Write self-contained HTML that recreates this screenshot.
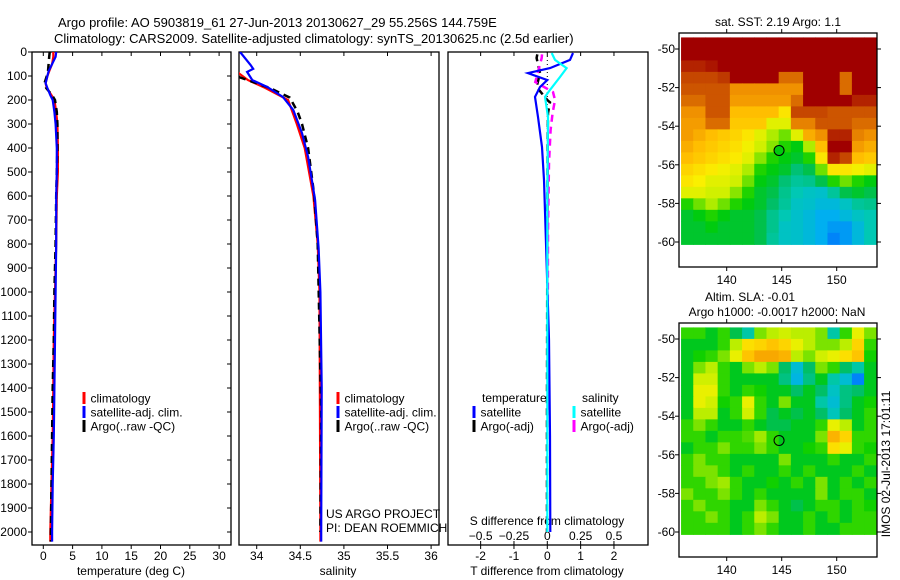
<!DOCTYPE html>
<html><head><meta charset="utf-8"><style>
html,body{margin:0;padding:0;background:#fff;}
svg{display:block;font-family:"Liberation Sans",sans-serif;}
text{fill:#000;}
</style></head><body>
<svg id="fig" width="900" height="580" viewBox="0 0 900 580" xmlns="http://www.w3.org/2000/svg">
<text x="58" y="27" font-size="13">Argo profile: AO 5903819_61 27-Jun-2013 20130627_29 55.256S 144.759E</text>
<text x="54" y="43" font-size="13">Climatology: CARS2009. Satellite-adjusted climatology: synTS_20130625.nc (2.5d earlier)</text>
<g id="layer"></g>
</svg>
<script>
// ---------- data ----------
const tDepth = [0,20,50,80,100,130,150,180,200,250,300,400,500,600,800,1000,1200,1400,1600,1800,2000,2040];
const tClim  = [1.7,1.7,1.5,1.0,0.7,0.4,0.6,1.4,1.9,2.2,2.4,2.5,2.5,2.3,2.2,2.0,1.8,1.7,1.6,1.4,1.2,1.2];
const tSat   = [2.2,2.1,1.5,0.9,0.7,0.4,0.7,1.2,1.6,1.9,2.1,2.3,2.3,2.2,2.2,2.1,2.0,1.9,1.8,1.6,1.5,1.5];
const tArgo  = [1.1,1.0,0.9,0.8,0.6,0.2,0.5,1.5,2.0,2.3,2.4,2.4,2.3,2.2,2.1,1.9,1.8,1.6,1.5,1.4,1.3,1.3];

const sDepthSat = [0,54,70,83,117,146,187,242,338,437,617,817,1000,1400,2000,2040];
const sSat      = [33.81,33.93,33.96,33.89,33.95,34.12,34.3,34.42,34.52,34.59,34.67,34.71,34.73,34.745,34.74,34.74];
const sDepthClim = [0,90,117,150,200,300,400,600,800,1000,2000,2040];
const sClim      = [33.5,33.8,33.9,34.1,34.36,34.46,34.55,34.65,34.7,34.72,34.73,34.73];
const sDepthArgo = [0,105,120,150,190,250,300,400,600,800,1500,2000];
const sArgo      = [33.5,33.8,33.92,34.15,34.38,34.47,34.52,34.59,34.66,34.7,34.74,34.73];

const dTDepthSat = [4,33,67,88,117,146,187,271,396,533,796,1200,1600,2000];
const dTSat      = [0.77,0.68,0.08,-0.58,0,-0.22,-0.37,-0.28,-0.16,-0.1,-0.04,0.05,0.08,0.09];
const dSDepthSat = [4,33,67,104,158,187,271,600,1000,1500,2000];
const dSSat      = [0.033,0.058,0.145,0.095,0.02,-0.017,0.005,0.0,0.0,0.0,0.0];
const dTDepthArgo = [10,25,88,146,200,210,254,400,800,1500,2000];
const dTArgo      = [-0.3,-0.32,-0.22,-0.32,0,0.08,0.02,0.01,0,-0.01,-0.01];
const dSDepthArgo = [10,25,125,167,200,254,325,462,742,1200,1500];
const dSArgo      = [-0.04,-0.042,-0.09,0.043,0.058,0.04,0.025,0.013,0.005,0.003,0.003];

const tTicks = [0,5,10,15,20,25,30];
const sTicks = [34,34.5,35,35.5,36];
const sTickLabels = ["34","34.5","35","35.5","36"];
const dTTicks = [-2,-1,0,1,2];
const dSTicks = [-0.5,-0.25,0,0.25,0.5];
const dSTickLabels = ["-0.5","-0.25","0","0.25","0.5"];
const depthTicks = [0,100,200,300,400,500,600,700,800,900,1000,1100,1200,1300,1400,1500,1600,1700,1800,1900,2000];
const lonTicks = [140,145,150];
const latTicks = [-50,-52,-54,-56,-58,-60];

const sstGrid = [
[1,1,1,1,1,1,1,1,1,1,1,1,1,1,1,1],
[1,1,1,1,1,1,1,1,1,1,1,1,1,1,1,1],
[0.95,0.95,0.97,1,1,1,1,1,1,1,1,1,1,1,1,1],
[0.9,0.9,0.9,0.92,1,1,1,1,0.85,0.85,1,1,1,0.85,1,1],
[0.88,0.88,0.88,0.88,0.8,0.8,0.8,0.8,0.8,0.8,1,1,1,0.85,1,1],
[0.85,0.85,0.88,0.88,0.78,0.78,0.78,0.78,0.78,0.85,1,1,1,1,0.95,0.95],
[0.8,0.8,0.88,0.88,0.72,0.72,0.72,0.72,0.65,0.9,0.9,0.9,0.88,0.88,0.88,0.88],
[0.78,0.78,0.85,0.85,0.7,0.7,0.7,0.6,0.6,0.82,0.82,0.88,0.88,0.88,0.85,0.85],
[0.78,0.75,0.72,0.7,0.68,0.65,0.6,0.55,0.5,0.6,0.75,0.8,0.95,0.95,0.82,0.8],
[0.75,0.72,0.7,0.68,0.66,0.62,0.58,0.52,0.45,0.42,0.55,0.72,1,1,0.78,0.75],
[0.72,0.7,0.68,0.66,0.64,0.6,0.52,0.45,0.42,0.4,0.45,0.65,0.95,0.9,0.72,0.7],
[0.68,0.66,0.64,0.62,0.6,0.55,0.45,0.42,0.4,0.35,0.38,0.5,0.65,0.65,0.62,0.6],
[0.65,0.63,0.6,0.6,0.58,0.5,0.42,0.4,0.35,0.32,0.33,0.38,0.45,0.5,0.45,0.42],
[0.6,0.6,0.58,0.58,0.52,0.45,0.4,0.38,0.33,0.3,0.28,0.27,0.32,0.38,0.4,0.38],
[0.45,0.5,0.55,0.5,0.45,0.42,0.4,0.36,0.32,0.28,0.27,0.25,0.25,0.28,0.32,0.33],
[0.4,0.42,0.45,0.42,0.4,0.4,0.38,0.33,0.3,0.27,0.25,0.22,0.22,0.25,0.28,0.3],
[0.4,0.4,0.42,0.4,0.4,0.4,0.38,0.33,0.28,0.27,0.25,0.22,0.2,0.2,0.25,0.3],
[0.4,0.4,0.4,0.4,0.4,0.4,0.38,0.32,0.28,0.27,0.25,0.22,0.18,0.2,0.25,0.3]];
const slaGrid = [
[0.5,0.5,0.45,0.5,0.42,0.35,0.55,0.6,0.62,0.6,0.6,0.55,0.35,0.5,0.65,0.55],
[0.45,0.45,0.45,0.5,0.6,0.7,0.72,0.75,0.72,0.65,0.6,0.55,0.55,0.6,0.72,0.5],
[0.45,0.48,0.5,0.55,0.65,0.75,0.8,0.8,0.78,0.6,0.55,0.62,0.65,0.7,0.75,0.48],
[0.45,0.55,0.6,0.5,0.45,0.55,0.6,0.55,0.4,0.3,0.4,0.55,0.5,0.4,0.35,0.45],
[0.45,0.62,0.62,0.5,0.45,0.45,0.45,0.45,0.38,0.28,0.38,0.45,0.35,0.3,0.22,0.45],
[0.45,0.65,0.65,0.5,0.45,0.5,0.48,0.45,0.45,0.4,0.45,0.4,0.32,0.38,0.4,0.45],
[0.45,0.65,0.62,0.48,0.5,0.65,0.5,0.45,0.55,0.45,0.45,0.35,0.3,0.38,0.45,0.48],
[0.45,0.6,0.6,0.45,0.5,0.62,0.5,0.42,0.45,0.42,0.45,0.4,0.33,0.4,0.45,0.5],
[0.5,0.55,0.5,0.45,0.45,0.5,0.45,0.42,0.42,0.45,0.45,0.5,0.65,0.6,0.45,0.5],
[0.5,0.5,0.45,0.5,0.5,0.52,0.58,0.5,0.45,0.45,0.45,0.55,0.78,0.72,0.5,0.5],
[0.45,0.5,0.5,0.55,0.5,0.5,0.55,0.5,0.45,0.45,0.48,0.5,0.7,0.65,0.5,0.48],
[0.5,0.55,0.5,0.5,0.45,0.45,0.45,0.45,0.55,0.45,0.45,0.45,0.5,0.45,0.45,0.5],
[0.5,0.55,0.55,0.5,0.45,0.5,0.45,0.45,0.5,0.45,0.5,0.45,0.45,0.45,0.5,0.45],
[0.5,0.5,0.55,0.58,0.5,0.45,0.45,0.48,0.45,0.5,0.45,0.55,0.45,0.5,0.45,0.5],
[0.55,0.5,0.5,0.55,0.5,0.45,0.5,0.45,0.45,0.45,0.45,0.55,0.45,0.5,0.5,0.45],
[0.5,0.55,0.5,0.5,0.45,0.45,0.55,0.5,0.45,0.42,0.45,0.5,0.5,0.45,0.5,0.48],
[0.5,0.5,0.55,0.5,0.45,0.5,0.6,0.55,0.45,0.45,0.5,0.45,0.5,0.45,0.5,0.5],
[0.5,0.5,0.5,0.5,0.45,0.5,0.55,0.5,0.45,0.45,0.5,0.45,0.45,0.5,0.5,0.5]];
const floatLon = 144.759;
const floatLat = -55.256;

// ---------- helpers ----------
const NS = "http://www.w3.org/2000/svg";
const layer = document.getElementById('layer');
function mk(tag, attrs, parent){const e=document.createElementNS(NS,tag);for(const k in attrs)e.setAttribute(k,attrs[k]);(parent||layer).appendChild(e);return e;}
function txt(x,y,s,anchor,size,parent){const t=mk('text',{x:x,y:y,'font-size':size||12,'text-anchor':anchor||'start'},parent);t.textContent=s;return t;}

const TOP=52, BOT=545;
const yD = d => TOP + d*0.24;
const xT = v => 43.3 + v*5.86;
const xS = v => 256.7 + (v-34)*87.2;
const xDT = v => 547.3 + v*33.33;
const xDS = v => 547.3 + v*133.3;

const panels = [[32,231],[239,439],[448,648]];
const defs = mk('defs',{});
panels.forEach((p,i)=>{
  const cp = mk('clipPath',{id:'clip'+i},defs);
  mk('rect',{x:p[0],y:TOP,width:p[1]-p[0],height:BOT-TOP},cp);
});

function line(depths, vals, sx, color, dashed, clip, name){
  const pts = depths.map((d,i)=>sx(vals[i]).toFixed(1)+','+yD(d).toFixed(1)).join(' ');
  const el = mk('polyline',{points:pts,fill:'none',stroke:color,'stroke-width':dashed?2.5:2.2,'clip-path':'url(#clip'+clip+')'});
  if(dashed) el.setAttribute('stroke-dasharray','7,5');
  
  
}

panels.forEach((p,i)=>{
  const r = mk('rect',{x:p[0],y:TOP,width:p[1]-p[0],height:BOT-TOP,fill:'none',stroke:'#000','stroke-width':1.3});
  
  
});

depthTicks.forEach(d=>{
  const y=yD(d);
  mk('line',{x1:28,y1:y,x2:32,y2:y,stroke:'#000'});
  mk('line',{x1:227,y1:y,x2:231,y2:y,stroke:'#000'});
  const t = txt(27,y+4,String(d),'end',12);
  
  
});

tTicks.forEach(v=>{
  const x=xT(v);
  mk('line',{x1:x,y1:TOP,x2:x,y2:TOP+4,stroke:'#000'});
  mk('line',{x1:x,y1:BOT,x2:x,y2:BOT+4,stroke:'#000'});
  const t = txt(x,560,String(v),'middle',12);
  
  
});
txt(131,575,'temperature (deg C)','middle',12);
sTicks.forEach((v,i)=>{
  const x=xS(v);
  mk('line',{x1:x,y1:TOP,x2:x,y2:TOP+4,stroke:'#000'});
  mk('line',{x1:x,y1:BOT,x2:x,y2:BOT+4,stroke:'#000'});
  const t = txt(x,560,sTickLabels[i],'middle',12);
  
  
});
txt(338,575,'salinity','middle',12);
dTTicks.forEach(v=>{
  const x=xDT(v);
  mk('line',{x1:x,y1:TOP,x2:x,y2:TOP+4,stroke:'#000'});
  mk('line',{x1:x,y1:BOT,x2:x,y2:BOT+4,stroke:'#000'});
  const t = txt(x,560,String(v),'middle',12);
  
  
});
dSTicks.forEach((v,i)=>{
  const x=xDS(v);
  mk('line',{x1:x,y1:BOT-4,x2:x,y2:BOT,stroke:'#000'});
  const t = txt(x,540,dSTickLabels[i].replace('-','\u2212'),'middle',12);
  
  
});
txt(547,525,'S difference from climatology','middle',12);
txt(547,575,'T difference from climatology','middle',12);

const zl = mk('line',{x1:xDT(0),y1:TOP,x2:xDT(0),y2:yD(800),stroke:'#000','stroke-dasharray':'1,3'});



line(tDepth,tClim,xT,'#ff0000',false,0,'temperature-climatology-line');
line(tDepth,tArgo,xT,'#000',true,0,'temperature-argo-line');
line(tDepth,tSat,xT,'#0000ff',false,0,'temperature-satellite-line');
line(sDepthClim,sClim,xS,'#ff0000',false,1,'salinity-climatology-line');
line(sDepthArgo,sArgo,xS,'#000',true,1,'salinity-argo-line');
line(sDepthSat,sSat,xS,'#0000ff',false,1,'salinity-satellite-line');
line(dTDepthArgo,dTArgo,xDT,'#000',true,2,'t-diff-argo-line');
line(dSDepthArgo,dSArgo,xDS,'#ff00ff',true,2,'s-diff-argo-line');
line(dTDepthSat,dTSat,xDT,'#0000ff',false,2,'t-diff-satellite-line');
line(dSDepthSat,dSSat,xDS,'#00ffff',false,2,'s-diff-satellite-line');

function leg(x,y,color,label,name){
  const g = mk('g',{});
  
  
  mk('rect',{x:x-1.5,y:y-6,width:3,height:12,fill:color},g);
  txt(x+6.5,y+4.5,label,'start',12,g);
}
leg(84,398,'#ff0000','climatology','legend-climatology');
leg(84,412,'#0000ff','satellite-adj. clim.','legend-satellite-adj');
leg(84,426,'#000','Argo(..raw -QC)','legend-argo');
leg(338,398,'#ff0000','climatology','legend-climatology-salinity');
leg(338,412,'#0000ff','satellite-adj. clim.','legend-satellite-adj-salinity');
leg(338,426,'#000','Argo(..raw -QC)','legend-argo-salinity');
txt(482,402,'temperature','start',12);
txt(582,402,'salinity','start',12);
leg(474,412,'#0000ff','satellite','legend-t-satellite');
leg(474,426,'#000','Argo(-adj)','legend-t-argo');
leg(574,412,'#00ffff','satellite','legend-s-satellite');
leg(574,426,'#ff00ff','Argo(-adj)','legend-s-argo');
txt(326,518,'US ARGO PROJECT','start',12);
txt(326,532,'PI: DEAN ROEMMICH','start',12);

// ---------- maps ----------
const stops=[[0.15,[0,100,255]],[0.22,[0,175,240]],[0.3,[0,200,180]],[0.37,[0,190,90]],[0.43,[0,205,0]],[0.5,[110,225,0]],[0.57,[200,240,0]],[0.63,[250,240,0]],[0.72,[255,190,0]],[0.8,[240,145,0]],[0.88,[205,85,0]],[1.0,[160,0,0]]];
function cmap(v){
  if(v<=stops[0][0]) return 'rgb('+stops[0][1]+')';
  for(let i=1;i<stops.length;i++){
    if(v<=stops[i][0]){const a=stops[i-1],b=stops[i];const f=(v-a[0])/(b[0]-a[0]);
      return 'rgb('+a[1].map((c,k)=>Math.round(c+(b[1][k]-c)*f)).join(',')+')';}
  }
  return 'rgb(160,0,0)';
}
function drawMap(bx, by, grid, titleLines, name, filledMarker, shift){
  const g = mk('g',{});
  
  
  const W=198,H=234;
  const lonX = lon => bx + 47.7 + (lon-140)*11;
  const latY = lat => by + 16 + (-50-lat)*19.3;
  const x0=lonX(135.85), x1=lonX(153.6), y0=latY(-49.4), y1=latY(-60.12);
  const rows=grid.length, cols=grid[0].length;
  const cw=(x1-x0)/cols, ch=(y1-y0)/rows;
  grid.forEach((row,r)=>row.forEach((v,c)=>{
    const cell = mk('rect',{x:(x0+c*cw).toFixed(2),y:(y0+r*ch).toFixed(2),width:(cw+0.6).toFixed(2),height:(ch+0.6).toFixed(2),fill:cmap(v+shift)},g);
    
    
  }));
  mk('rect',{x:bx,y:by,width:W,height:H,fill:'none',stroke:'#000','stroke-width':1.3},g);
  lonTicks.forEach(l=>{const x=lonX(l);
    mk('line',{x1:x,y1:by,x2:x,y2:by-4,stroke:'#000'},g);
    mk('line',{x1:x,y1:by+H,x2:x,y2:by+H+4,stroke:'#000'},g);
    txt(x,by+H+17,String(l),'middle',12,g);});
  latTicks.forEach(l=>{const y=latY(l);
    mk('line',{x1:bx,y1:y,x2:bx-4,y2:y,stroke:'#000'},g);
    mk('line',{x1:bx+W,y1:y,x2:bx+W+4,y2:y,stroke:'#000'},g);
    txt(bx-4,y+4,String(l),'end',12,g);});
  titleLines.forEach(t=>txt(t[0],t[1],t[2],'middle',12,g));
  const m = mk('circle',{cx:lonX(floatLon),cy:latY(floatLat),r:5,fill:filledMarker?cmap(0.42):'none',stroke:'#000','stroke-width':1},g);
  
  
}
drawMap(679,33,sstGrid,[[778,26,'sat. SST: 2.19 Argo: 1.1']],'sst-map',true,0);
drawMap(679,323,slaGrid,[[750,301,'Altim. SLA: -0.01'],[777,316,'Argo h1000: -0.0017 h2000: NaN']],'sla-map',false,-0.04);
const stamp = txt(0,0,'IMOS 02-Jul-2013 17:01:11','middle',12);
stamp.setAttribute('transform','translate(890,464) rotate(-90)');


</script>
</body></html>
